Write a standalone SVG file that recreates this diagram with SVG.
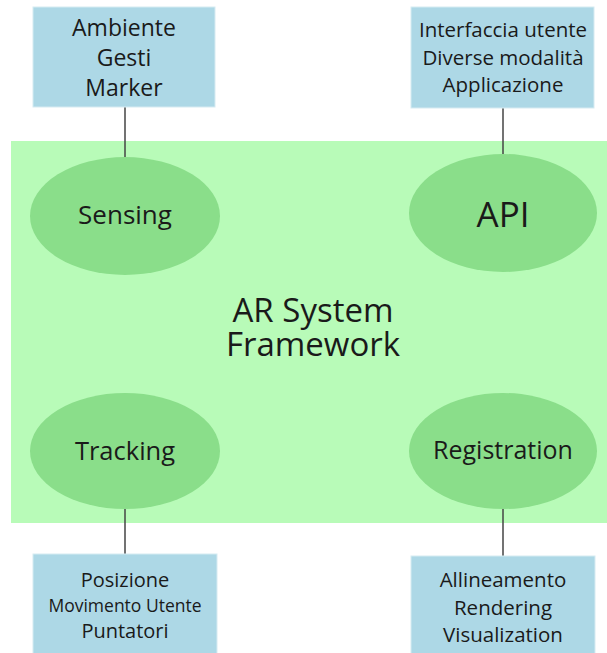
<svg xmlns="http://www.w3.org/2000/svg" width="607" height="653" viewBox="0 0 607 653">
<style>
.box{fill:#add8e6;stroke:#d6ebf2;stroke-width:1}
.ell{fill:#8ade8a}
.t{font-family:"Open Sans","Noto Sans","DejaVu Sans",sans-serif;fill:#1a1a1a;text-anchor:middle}
.ln{stroke:#444;stroke-width:1.5;fill:none}
</style>
<rect id="framework-bg" x="11" y="141" width="596" height="382" fill="#b8fbb8"/>
<g id="connectors">
<line class="ln" x1="125" y1="107" x2="125" y2="157"/>
<line class="ln" x1="503" y1="108" x2="503" y2="154"/>
<line class="ln" x1="125" y1="509" x2="125" y2="554"/>
<line class="ln" x1="503" y1="509" x2="503" y2="556"/>
</g>
<g id="framework"><text class="t" font-size="33"><tspan x="313" y="322">AR System</tspan><tspan x="313" y="356">Framework</tspan></text></g>
<g id="sensing"><ellipse class="ell" cx="125" cy="216" rx="95" ry="59"/><text class="t" x="125" y="224" font-size="26">Sensing</text></g>
<g id="api"><ellipse class="ell" cx="503" cy="213" rx="94" ry="59"/><text class="t" x="503" y="227" font-size="35">API</text></g>
<g id="tracking"><ellipse class="ell" cx="125" cy="451" rx="95" ry="58"/><text class="t" x="125" y="460" font-size="25.5">Tracking</text></g>
<g id="registration"><ellipse class="ell" cx="503" cy="451" rx="94" ry="58"/><text class="t" x="503" y="459" font-size="25">Registration</text></g>
<g id="box-sensing"><rect class="box" x="33" y="7" width="182" height="100"/><text class="t" x="124" y="36" font-size="23">Ambiente</text><text class="t" x="124" y="66" font-size="23">Gesti</text><text class="t" x="124" y="96" font-size="23">Marker</text></g>
<g id="box-api"><rect class="box" x="411" y="7" width="183" height="101"/><text class="t" x="503" y="37" font-size="20.5">Interfaccia utente</text><text class="t" x="503" y="65" font-size="20.5">Diverse modalità</text><text class="t" x="503" y="92" font-size="20.5">Applicazione</text></g>
<g id="box-tracking"><rect class="box" x="33" y="554" width="184" height="110"/><text class="t" x="125" y="587" font-size="20">Posizione</text><text class="t" x="125" y="612" font-size="17.5">Movimento Utente</text><text class="t" x="125" y="638" font-size="20">Puntatori</text></g>
<g id="box-registration"><rect class="box" x="411" y="556" width="184" height="110"/><text class="t" x="503" y="587" font-size="20.5">Allineamento</text><text class="t" x="503" y="615" font-size="20.5">Rendering</text><text class="t" x="503" y="642" font-size="20.5">Visualization</text></g>
</svg>
